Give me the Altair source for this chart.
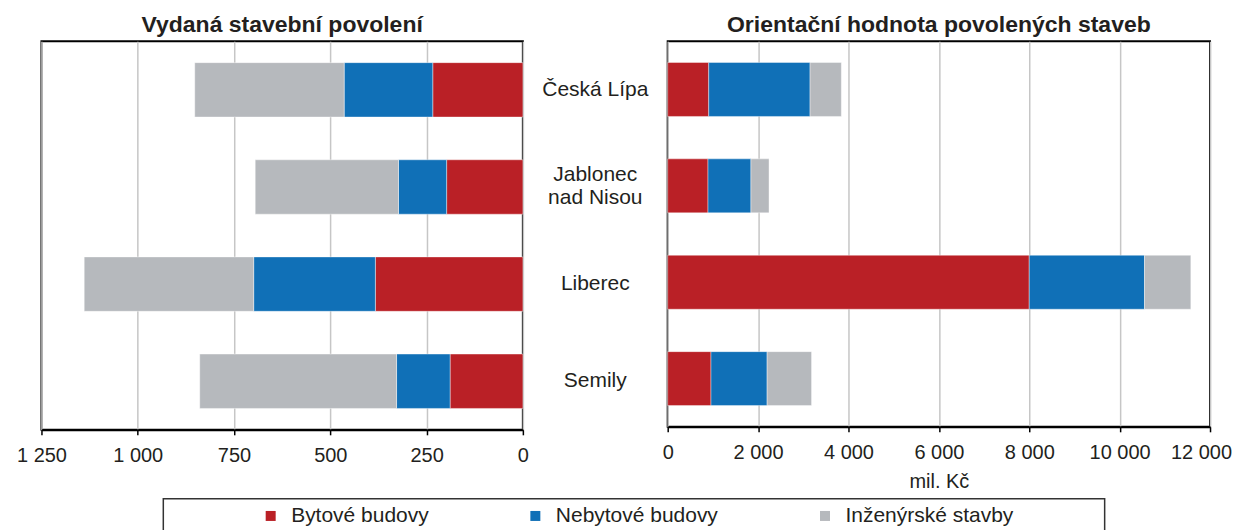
import altair as alt
import pandas as pd

# ---- data ----
regions = ["Česká Lípa", "Jablonec nad Nisou", "Liberec", "Semily"]
region_labels = ["Česká Lípa", "Jablonec\nnad Nisou", "Liberec", "Semily"]
categories = ["Bytové budovy", "Nebytové budovy", "Inženýrské stavby"]
colors = ["#BA2026", "#1070B7", "#B6B9BD"]

permits_byt = [234, 198, 383, 189]
permits_nebyt = [230, 125, 316, 139]
permits_inz = [388, 372, 440, 511]

value_byt = [908, 892, 8000, 958]
value_nebyt = [2242, 950, 2550, 1242]
value_inz = [692, 400, 1025, 983]

left_ticks = [0, 250, 500, 750, 1000, 1250]
right_ticks = [0, 2000, 4000, 6000, 8000, 10000, 12000]

rows = []
for i, r in enumerate(regions):
    for k, (c, p, v) in enumerate(zip(categories,
                                      [permits_byt[i], permits_nebyt[i], permits_inz[i]],
                                      [value_byt[i], value_nebyt[i], value_inz[i]])):
        rows.append({"region": r, "category": c, "order": k, "permits": p, "value": v})
df = pd.DataFrame(rows)
df_lab = pd.DataFrame({"region": regions, "label": region_labels,
                       "lines": [lab.count("\n") + 1 for lab in region_labels]})
df_cat = pd.DataFrame({"category": categories})

FONT = "Liberation Sans"
TXT = "#231F20"
LINE_H = 23
label_expr = "replace(format(datum.value, ','), ',', ' ')"

ycat = dict(sort=regions, axis=None, scale=alt.Scale(paddingInner=0.44, paddingOuter=0.22))

color = alt.Color(
    "category:N",
    sort=categories,
    scale=alt.Scale(domain=categories, range=colors),
    legend=alt.Legend(
        orient="none", legendX=219, legendY=464.5, direction="horizontal", title=None,
        symbolType="square", symbolSize=100, symbolStrokeWidth=0, symbolOpacity=1,
        labelFont=FONT, labelFontSize=21, labelColor=TXT, labelOffset=10, labelLimit=400,
        columnPadding=96,
    ),
)

bar_style = dict(stroke="white", strokeWidth=0.8, strokeOpacity=0.5)
axis_common = dict(labelExpr=label_expr, labelFlush=False, labelOverlap=False)

left = alt.Chart(df).mark_bar(**bar_style).encode(
    x=alt.X("permits:Q", stack="zero",
            scale=alt.Scale(domain=[0, 1250], reverse=True, nice=False),
            axis=alt.Axis(values=left_ticks, title=None, **axis_common)),
    y=alt.Y("region:N", **ycat),
    color=color,
    order=alt.Order("order:Q"),
).properties(
    width=482, height=389,
    title=alt.TitleParams("Vydaná stavební povolení", baseline="alphabetic", offset=-13.5),
    view=alt.ViewBackground(stroke="black", strokeWidth=2),
)

text_style = dict(font=FONT, fontSize=21, color=TXT, lineBreak="\n", lineHeight=LINE_H,
                  align="center", baseline="middle")
mid_base = alt.Chart(df_lab).encode(
    x=alt.value(72.5),
    y=alt.Y("region:N", **ycat),
    text="label:N",
)
mid_one = mid_base.transform_filter(alt.datum.lines == 1).mark_text(**text_style)
mid_two = mid_base.transform_filter(alt.datum.lines == 2).mark_text(dy=-LINE_H / 2, **text_style)
mid = alt.layer(mid_one, mid_two).properties(
    width=145, height=389, view=alt.ViewBackground(stroke="transparent"))

right = alt.Chart(df).mark_bar(**bar_style).encode(
    x=alt.X("value:Q", stack="zero",
            scale=alt.Scale(domain=[0, 12000], nice=False),
            axis=alt.Axis(values=right_ticks, title="mil. Kč", titlePadding=9,
                          labelOffset={"condition": {"test": "datum.value >= 12000", "value": -9},
                                       "value": 0},
                          **axis_common)),
    y=alt.Y("region:N", **ycat),
    color=color,
    order=alt.Order("order:Q"),
).properties(
    width=543, height=386,
    title=alt.TitleParams("Orientační hodnota povolených staveb", baseline="alphabetic", offset=-13.5),
    view=alt.ViewBackground(stroke="black", strokeWidth=2),
)

spacer = alt.Chart(df_cat).mark_point(opacity=0).encode(
    color=color
).properties(width=121.5, height=40, view=alt.ViewBackground(stroke="transparent"))

frame = alt.Chart(df_cat).mark_point(opacity=0).encode(
    color=color
).properties(width=942.5, height=40, view=alt.ViewBackground(stroke="#333333", strokeWidth=1.5))

top = alt.hconcat(left, mid, right, spacing=0, bounds="flush")
bottom = alt.hconcat(spacer, frame, spacing=0, bounds="flush")

chart = alt.vconcat(top, bottom, spacing=5).properties(
    padding={"left": 6.5, "top": 4, "right": 0, "bottom": 0}
).configure_axis(
    labelFont=FONT, labelFontSize=20, labelColor=TXT, labelPadding=11,
    titleFont=FONT, titleFontSize=20, titleColor=TXT, titleFontWeight="normal", titlePadding=5,
    domainColor="black", domainWidth=2, tickColor="black", tickWidth=1.5, tickSize=5,
    gridColor="#C6C6C6", gridWidth=1.5,
).configure_title(
    font=FONT, fontSize=23, fontWeight="bold", color=TXT, anchor="middle",
).configure_view(stroke="black")

chart.save("out.html", embed_options={"renderer": "svg", "actions": False})
